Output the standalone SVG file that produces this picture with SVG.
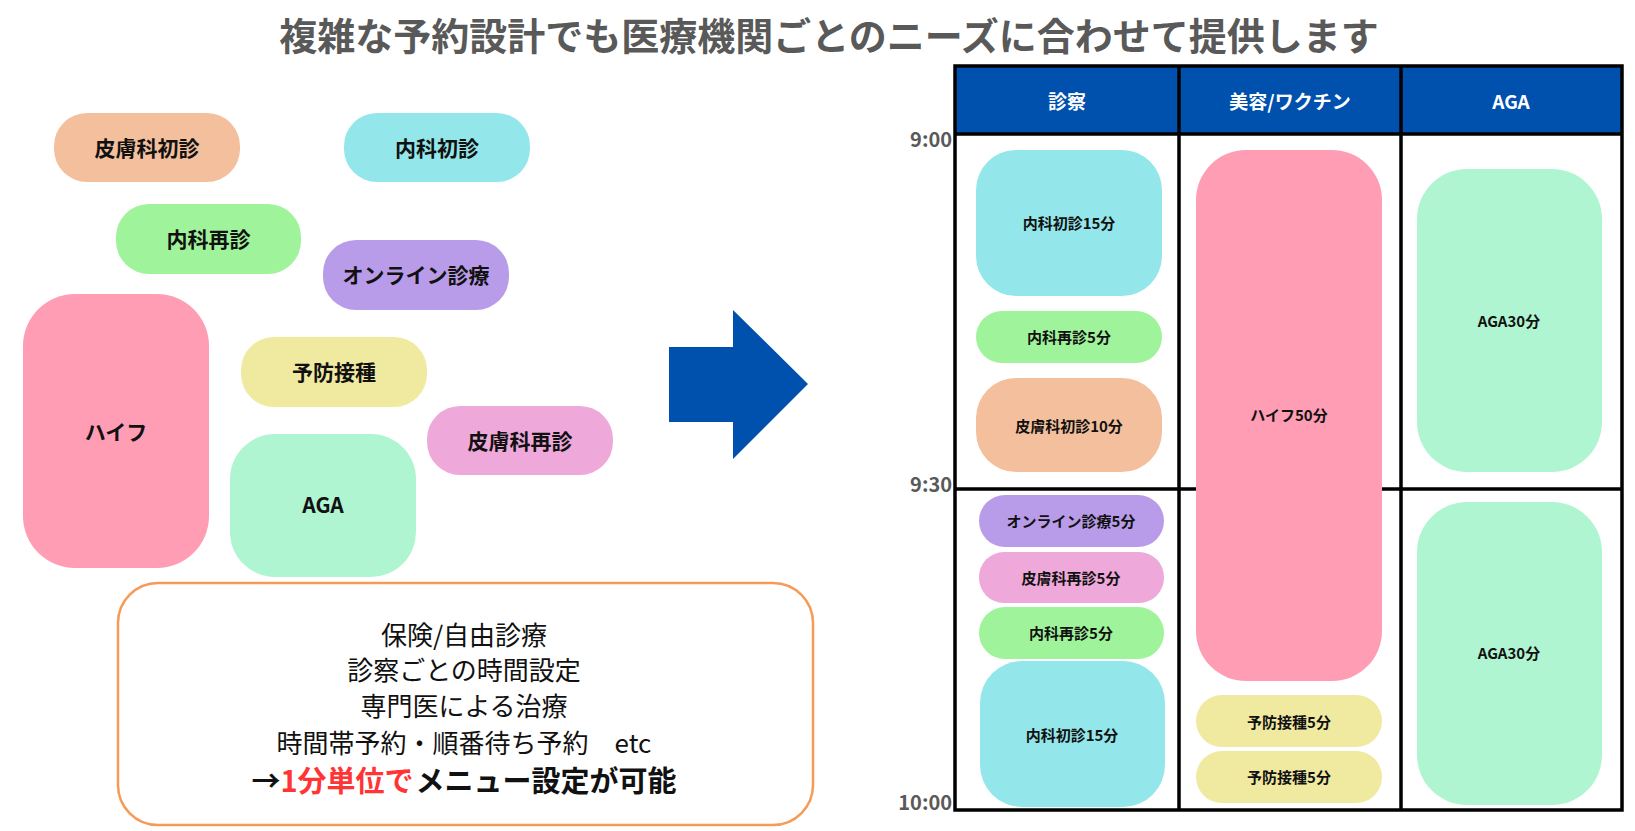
<svg xmlns="http://www.w3.org/2000/svg" width="1635" height="831" viewBox="0 0 1635 831">
<style>
text{font-family:"Noto Sans CJK JP","Noto Sans",sans-serif;text-anchor:middle}
.title{font-size:38px;font-weight:bold;fill:#595959}
.pl{font-size:21px;font-weight:bold;fill:#111}
.tb{font-size:15px;font-weight:bold;fill:#111}
.hd{font-size:19px;font-weight:bold;fill:#fff}
.tm{font-size:20px;font-weight:bold;fill:#595959;text-anchor:end}
.note{font-size:26px;fill:#111}
.note-strong{font-size:29px;font-weight:bold;fill:#111}
.peach{fill:#F4BF9C}.cyan{fill:#93E6E9}.green{fill:#9FF39A}.purple{fill:#B89CEA}
.pink{fill:#FF9DB5}.yellow{fill:#F0E9A0}.magenta{fill:#EEA8DA}.mint{fill:#B0F5D2}
.grid{stroke:#000;stroke-width:3.5;fill:none}
</style>
<rect width="1635" height="831" fill="#fff"/>
<text class="title" x="829" y="50">複雑な予約設計でも医療機関ごとのニーズに合わせて提供します</text>

<g id="menu-hifu-skin-first"><rect class="peach" x="54" y="113" width="186" height="69" rx="33"/><text class="pl" x="147" y="155.5">皮膚科初診</text></g>
<g id="menu-internal-first"><rect class="cyan" x="344" y="113" width="186" height="69" rx="33"/><text class="pl" x="437" y="155.5">内科初診</text></g>
<g id="menu-internal-revisit"><rect class="green" x="116" y="204" width="185" height="70" rx="33"/><text class="pl" x="208.5" y="247">内科再診</text></g>
<g id="menu-online"><rect class="purple" x="323" y="240" width="186" height="70" rx="33"/><text class="pl" x="416" y="283">オンライン診療</text></g>
<g id="menu-hifu"><rect class="pink" x="23" y="294" width="186" height="274" rx="52"/><text class="pl" x="116" y="440">ハイフ</text></g>
<g id="menu-vaccine"><rect class="yellow" x="241" y="337" width="186" height="70" rx="33"/><text class="pl" x="334" y="380">予防接種</text></g>
<g id="menu-skin-revisit"><rect class="magenta" x="427" y="406" width="186" height="69" rx="33"/><text class="pl" x="520" y="448.5">皮膚科再診</text></g>
<g id="menu-aga"><rect class="mint" x="230" y="434" width="186" height="143" rx="45"/><text class="pl" x="323" y="513">AGA</text></g>

<g id="note-box">
<rect x="118" y="583" width="695" height="242" rx="40" fill="#fff" stroke="#F79A55" stroke-width="2.5"/>
<text class="note" x="464" y="645">保険/自由診療</text>
<text class="note" x="464" y="680">診察ごとの時間設定</text>
<text class="note" x="464" y="716">専門医による治療</text>
<text class="note" x="464" y="753">時間帯予約・順番待ち予約　etc</text>
<text class="note-strong" x="464" y="792">→<tspan fill="#FF3535">1分単位で</tspan><tspan dx="2">メニュー設定が可能</tspan></text>
</g>

<g id="connectors">
<polygon points="669,347 733,347 733,310 808,384 733,459 733,422 669,422" fill="#0050AE"/>
</g>

<g id="schedule-table">
<rect x="955" y="66" width="667" height="68" fill="#0050AE"/>
<text class="hd" x="1067" y="109">診察</text>
<text class="hd" x="1290" y="109">美容/ワクチン</text>
<text class="hd" x="1511" y="109">AGA</text>
<path class="grid" d="M955,66H1622V810H955Z M955,134H1622 M955,489H1622 M1179,66V810 M1401,66V810"/>
<text class="tm" x="952" y="147">9:00</text>
<text class="tm" x="952" y="492">9:30</text>
<text class="tm" x="952" y="810">10:00</text>
</g>

<g id="slot-c1-internal-first"><rect class="cyan" x="976" y="150" width="186" height="146" rx="40"/><text class="tb" x="1069" y="229">内科初診15分</text></g>
<g id="slot-c1-internal-revisit"><rect class="green" x="976" y="311" width="186" height="52" rx="26"/><text class="tb" x="1069" y="343">内科再診5分</text></g>
<g id="slot-c1-skin-first"><rect class="peach" x="976" y="378" width="186" height="94" rx="40"/><text class="tb" x="1069" y="432">皮膚科初診10分</text></g>
<g id="slot-c1-online"><rect class="purple" x="979" y="495" width="185" height="52" rx="26"/><text class="tb" x="1071" y="527">オンライン診療5分</text></g>
<g id="slot-c1-skin-revisit"><rect class="magenta" x="979" y="552" width="185" height="51" rx="25"/><text class="tb" x="1071" y="584">皮膚科再診5分</text></g>
<g id="slot-c1-internal-revisit2"><rect class="green" x="979" y="607" width="185" height="52" rx="26"/><text class="tb" x="1071" y="639">内科再診5分</text></g>
<g id="slot-c1-internal-first2"><rect class="cyan" x="980" y="661" width="185" height="146" rx="42"/><text class="tb" x="1072" y="741">内科初診15分</text></g>
<g id="slot-c2-hifu"><rect class="pink" x="1196" y="150" width="186" height="531" rx="50"/><text class="tb" x="1289" y="421">ハイフ50分</text></g>
<g id="slot-c2-vaccine1"><rect class="yellow" x="1196" y="695" width="186" height="52" rx="26"/><text class="tb" x="1289" y="728">予防接種5分</text></g>
<g id="slot-c2-vaccine2"><rect class="yellow" x="1196" y="751" width="186" height="52" rx="26"/><text class="tb" x="1289" y="783">予防接種5分</text></g>
<g id="slot-c3-aga1"><rect class="mint" x="1417" y="169" width="185" height="303" rx="50"/><text class="tb" x="1509" y="327">AGA30分</text></g>
<g id="slot-c3-aga2"><rect class="mint" x="1417" y="502" width="185" height="303" rx="50"/><text class="tb" x="1509" y="659">AGA30分</text></g>
</svg>
